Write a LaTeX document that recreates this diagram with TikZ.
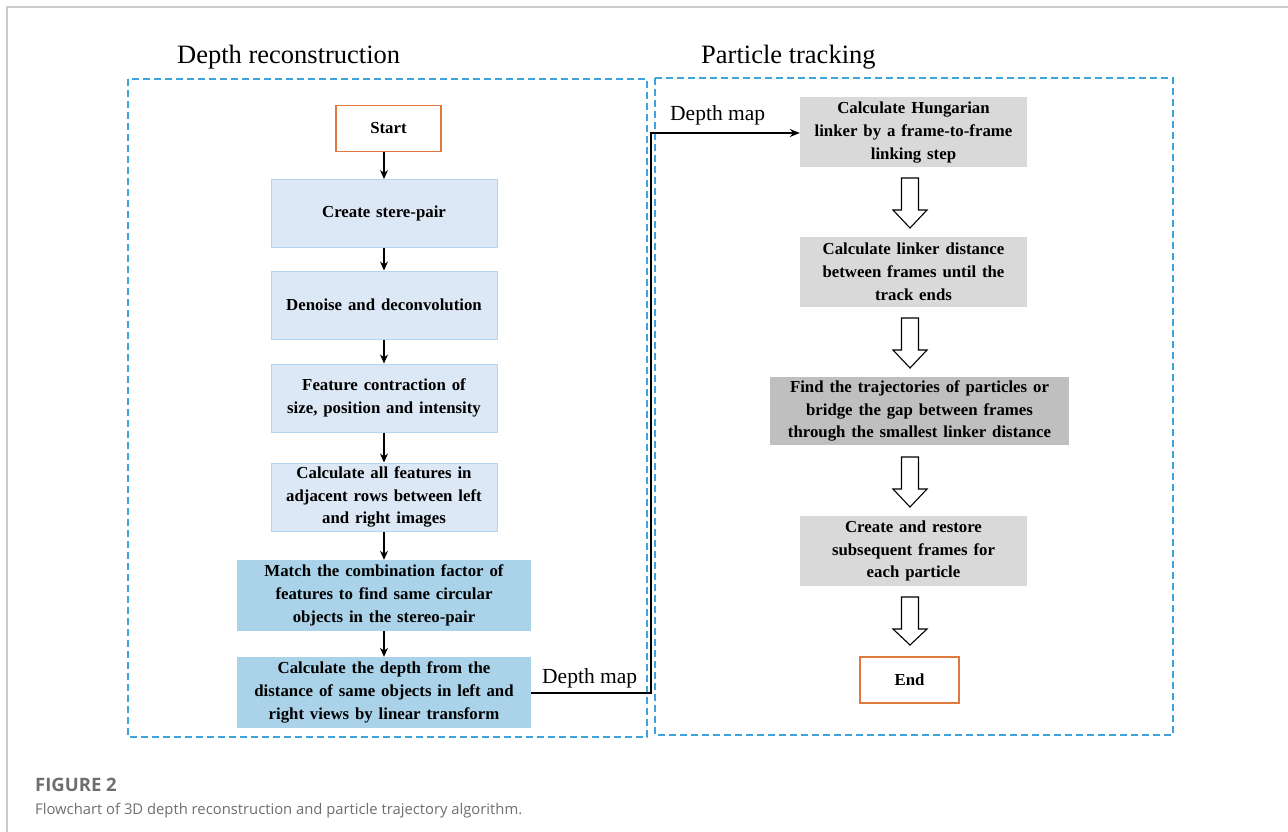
\documentclass[tikz,border=0pt]{standalone}
\usepackage{fontspec}
\setmainfont{Liberation Serif}
\newfontfamily\boxfam{Liberation Serif}[WordSpace=1.4]
\newfontfamily\capfont{Open Sans}
\usetikzlibrary{arrows.meta,calc}
\definecolor{frameblue}{HTML}{3DA3DA}
\definecolor{lightbox}{HTML}{DCE8F5}
\definecolor{lightedge}{HTML}{B2D6F0}
\definecolor{midbox}{HTML}{AAD3EA}
\definecolor{graybox}{HTML}{D9D9D9}
\definecolor{darkgray}{HTML}{BFBFBF}
\definecolor{startorange}{HTML}{E07A3C}
\definecolor{captiongray}{HTML}{6E6E6E}
\tikzset{
  boxfont/.style={font=\boxfam\fontsize{16.8}{22.8}\selectfont\bfseries},
  panel/.style={draw=frameblue, line width=1.3pt, dash pattern=on 7pt off 4pt},
  lbox/.style={boxfont, fill=lightbox, draw=lightedge, line width=1pt, minimum width=226pt, minimum height=68pt, align=center, inner sep=0pt},
  mbox/.style={boxfont, fill=midbox, draw=none, minimum width=294pt, minimum height=71pt, align=center, inner sep=0pt},
  gbox/.style={boxfont, fill=graybox, draw=none, minimum width=227pt, minimum height=70pt, align=center, inner sep=0pt},
  obox/.style={boxfont, draw=startorange, line width=1.2pt, fill=white, minimum height=46pt, inner sep=0pt},
  flow/.style={-{Stealth[length=9pt,width=8pt]}, line width=1.1pt},
  hollow/.style={draw=black, fill=white, line width=1.1pt, line join=miter},
  title/.style={font=\fontsize{26.5}{30}\selectfont, anchor=base west, inner sep=0pt},
  lab/.style={font=\fontsize{21.5}{24}\selectfont, anchor=base west, inner sep=0pt},
}
% hollow arrow from top point (#1) downward, length #2
\newcommand\hollowarrow[2]{%
  \draw[hollow] ($(#1)+(-8.5,0)$) -- ++(0,32) -- ++(-8.5,0) -- ($(#1)+(0,#2)$) -- ($(#1)+(17,32)$) -- ++(-8.5,0) -- ++(0,-32) -- cycle;}
\begin{document}
\begin{tikzpicture}[x=1pt,y=-1pt]
\useasboundingbox (0,0) rectangle (1288,832);
% page frame
\draw[draw=black!20, line width=1.2pt] (7,832) -- (7,7) -- (1288,7);
% panels
\draw[panel] (128,79) rectangle (647,737);
\draw[panel] (655,78) rectangle (1173,735);
\node[title] (t1) at (177,64) {Depth reconstruction};
\node[title] (t2) at (701,64) {Particle tracking};
% left column
\node[obox, minimum width=105pt] (start) at (388.5,128.5) {Start};
\node[lbox] (b1) at (384,213.5) {Create stere-pair};
\node[lbox] (b2) at (384,305) {Denoise and deconvolution};
\node[lbox] (b3) at (384,398) {Feature contraction of\\size, position and intensity};
\node[lbox] (b4) at (384,497) {Calculate all features in\\adjacent rows between left\\and right images};
\node[mbox] (b5) at (384,595.5) {Match the combination factor of\\features to find same circular\\objects in the stereo-pair};
\node[mbox] (b6) at (384,692.5) {Calculate the depth from the\\distance of same objects in left and\\right views by linear transform};
\draw[flow] (start.south -| b1.north) -- (b1.north);
\draw[flow] (b1) -- (b2);
\draw[flow] (b2) -- (b3);
\draw[flow] (b3) -- (b4);
\draw[flow] (b4) -- (b5);
\draw[flow] (b5) -- (b6);
% right column
\node[gbox] (r1) at (913.5,132.5) {Calculate Hungarian\\linker by a frame-to-frame\\linking step};
\node[gbox] (r2) at (913.5,272) {Calculate linker distance\\between frames until the\\track ends};
\node[gbox, fill=darkgray, minimum width=299pt, minimum height=68pt] (r3) at (919.5,411) {Find the trajectories of particles or\\bridge the gap between frames\\through the smallest linker distance};
\node[gbox] (r4) at (913.5,551) {Create and restore\\subsequent frames for\\each particle};
\node[obox, minimum width=99pt] (end) at (909.5,680) {End};
\coordinate (a1) at (910,178);
\coordinate (a2) at (910,318);
\coordinate (a3) at (910,457);
\coordinate (a4) at (910,597);
\hollowarrow{a1}{50}
\hollowarrow{a2}{50}
\hollowarrow{a3}{50}
\hollowarrow{a4}{48}
% depth map connector
\coordinate (c1) at (651,693);
\coordinate (c2) at (651,133);
\draw[line width=1.3pt, -{Stealth[length=10pt,width=8pt]}] (b6.east |- c1) -- (c1) -- (c2) -- (r1.west |- c2);
\node[lab] (l1) at (542,683) {Depth map};
\node[lab] (l2) at (670,121) {Depth map};
% caption
\node[font=\capfont\fontsize{18.5}{20}\selectfont\bfseries, text=captiongray, anchor=base west, inner sep=0pt] (cap1) at (35,791) {FIGURE 2};
\node[font=\capfont\fontsize{14.8}{20}\selectfont, text=captiongray, anchor=base west, inner sep=0pt] (cap2) at (35,814) {Flowchart of 3D depth reconstruction and particle trajectory algorithm.};
\end{tikzpicture}
\end{document}
